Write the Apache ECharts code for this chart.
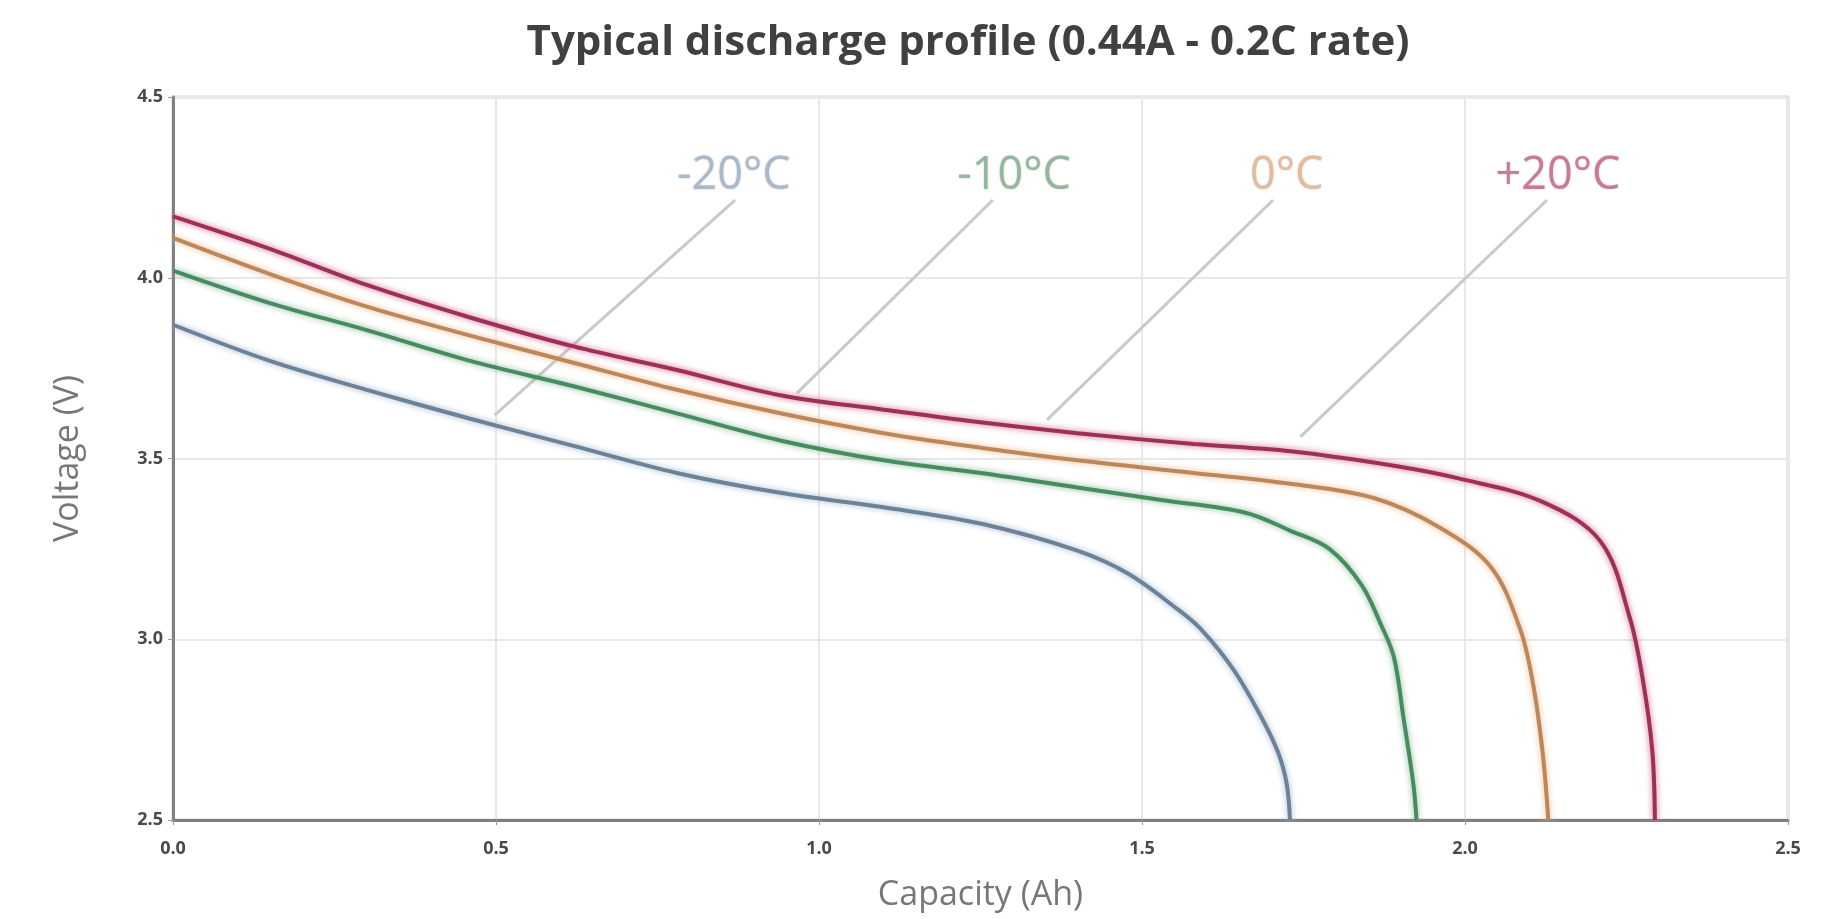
<!DOCTYPE html>
<html>
<head>
<meta charset="utf-8">
<title>Typical discharge profile</title>
<script src="https://cdn.jsdelivr.net/npm/echarts@6/dist/echarts.min.js"></script>
<style>
    html, body { margin: 0; padding: 0; background: #fff; }
    #chart { width: 1834px; height: 919px; }
</style>
</head>
<body>
<div id="chart"></div>
<script>
// capacity (Ah) / voltage (V)
const capP20 = [0.0, 0.15, 0.30, 0.46, 0.62, 0.78, 0.94, 1.10, 1.25, 1.40, 1.58, 1.73, 1.89, 1.99, 2.12, 2.21, 2.255, 2.276, 2.29, 2.294];
const voltP20 = [4.17, 4.08, 3.98, 3.89, 3.81, 3.745, 3.675, 3.635, 3.60, 3.57, 3.54, 3.52, 3.48, 3.445, 3.38, 3.27, 3.06, 2.88, 2.69, 2.5];

const cap0 = [0.0, 0.15, 0.30, 0.46, 0.62, 0.78, 0.94, 1.10, 1.25, 1.40, 1.58, 1.73, 1.86, 1.96, 2.04, 2.085, 2.105, 2.12, 2.129];
const volt0 = [4.11, 4.01, 3.92, 3.84, 3.765, 3.69, 3.625, 3.57, 3.53, 3.495, 3.46, 3.43, 3.39, 3.31, 3.20, 3.03, 2.88, 2.69, 2.5];

const capM10 = [0.0, 0.15, 0.30, 0.46, 0.62, 0.78, 0.94, 1.10, 1.25, 1.40, 1.53, 1.66, 1.73, 1.79, 1.84, 1.87, 1.89, 1.905, 1.92, 1.925];
const voltM10 = [4.02, 3.93, 3.855, 3.77, 3.70, 3.625, 3.55, 3.495, 3.46, 3.42, 3.385, 3.35, 3.30, 3.25, 3.15, 3.04, 2.95, 2.78, 2.60, 2.5];

const capM20 = [0.0, 0.15, 0.30, 0.46, 0.62, 0.78, 0.94, 1.10, 1.25, 1.40, 1.48, 1.55, 1.59, 1.64, 1.68, 1.71, 1.724, 1.729];
const voltM20 = [3.87, 3.77, 3.69, 3.61, 3.535, 3.46, 3.405, 3.365, 3.32, 3.245, 3.18, 3.09, 3.03, 2.92, 2.80, 2.69, 2.60, 2.5];

// annotation labels and leader lines (data coords)
const labelNames = ['-20°C', '-10°C', '0°C', '+20°C'];
const labelX = [0.868, 1.302, 1.724, 2.144];
const labelY = [4.28, 4.28, 4.28, 4.28];
const leaderStart = [[0.870, 4.215], [1.269, 4.215], [1.703, 4.215], [2.127, 4.215]];
const leaderEnd = [[0.498, 3.62], [0.966, 3.681], [1.353, 3.607], [1.745, 3.56]];

const xTicks = [0.0, 0.5, 1.0, 1.5, 2.0, 2.5];
const yTicks = [2.5, 3.0, 3.5, 4.0, 4.5];

const lineColors = ['#6c8296', '#458c5f', '#bd875a', '#a02f58'];
const labelColors = ['#9fb5cc', '#84b394', '#e9b88e', '#c8658a'];

function pairs(xs, ys) {
    return xs.map((x, i) => [x, ys[i]]);
}

const curves = [
    pairs(capM20, voltM20),
    pairs(capM10, voltM10),
    pairs(cap0, volt0),
    pairs(capP20, voltP20)
];

const myChart = echarts.init(document.getElementById('chart'));

const series = [];

// leader lines first, so the curves sit on top
leaderStart.forEach((s, i) => {
    series.push({
        type: 'line',
        data: [s, leaderEnd[i]],
        symbol: 'none',
        silent: true,
        z: 1,
        lineStyle: { color: '#c9c9c9', width: 3 }
    });
});

curves.forEach((d, i) => {
    series.push({
        name: labelNames[i],
        type: 'line',
        data: d,
        smooth: 0.35,
        symbol: 'none',
        z: 3,
        lineStyle: {
            color: lineColors[i],
            width: 4,
            shadowColor: labelColors[i],
            shadowBlur: 6
        }
    });
});

series.push({
    type: 'scatter',
    symbolSize: 0,
    silent: true,
    z: 4,
    data: labelNames.map((n, i) => ({
        name: n,
        value: [labelX[i], labelY[i]],
        label: { color: labelColors[i] }
    })),
    label: {
        show: true,
        position: 'inside',
        formatter: p => p.name,
        fontFamily: 'Open Sans',
        fontSize: 45,
        textShadowColor: 'rgba(0,0,0,0.3)',
        textShadowBlur: 2
    }
});

const option = {
    backgroundColor: '#fff',
    animation: false,
    title: {
        text: 'Typical discharge profile (0.44A - 0.2C rate)',
        left: 963,
        textAlign: 'center',
        top: 17,
        textStyle: {
            fontFamily: 'Open Sans',
            fontSize: 42,
            fontWeight: 'bold',
            color: '#404040'
        }
    },
    grid: {
        left: 173,
        right: 46,
        top: 97,
        bottom: 99,
        show: true,
        borderColor: '#d4d4d4',
        borderWidth: 3
    },
    xAxis: {
        type: 'value',
        min: xTicks[0],
        max: xTicks[xTicks.length - 1],
        interval: 0.5,
        name: 'Capacity (Ah)',
        nameLocation: 'middle',
        nameGap: 58,
        nameTextStyle: { fontFamily: 'Open Sans', fontSize: 34, color: '#777' },
        axisLine: { lineStyle: { color: '#808080', width: 3 } },
        axisTick: { show: true, length: 5, lineStyle: { color: '#999' } },
        axisLabel: {
            formatter: v => v.toFixed(1),
            fontFamily: 'Open Sans',
            fontSize: 18,
            fontWeight: 'bold',
            color: '#4a4a4a',
            margin: 20
        },
        splitLine: { show: true, lineStyle: { color: '#e8e8e8', width: 2 } }
    },
    yAxis: {
        type: 'value',
        min: yTicks[0],
        max: yTicks[yTicks.length - 1],
        interval: 0.5,
        name: 'Voltage (V)',
        nameLocation: 'middle',
        nameGap: 88,
        nameTextStyle: { fontFamily: 'Open Sans', fontSize: 34, color: '#777' },
        axisLine: { show: true, lineStyle: { color: '#808080', width: 3 } },
        axisTick: { show: true, length: 5, lineStyle: { color: '#999' } },
        axisLabel: {
            formatter: v => v.toFixed(1),
            fontFamily: 'Open Sans',
            fontSize: 18,
            fontWeight: 'bold',
            color: '#4a4a4a',
            margin: 10
        },
        splitLine: { show: true, lineStyle: { color: '#e8e8e8', width: 2 } }
    },
    series: series
};

myChart.setOption(option);
</script>
</body>
</html>
